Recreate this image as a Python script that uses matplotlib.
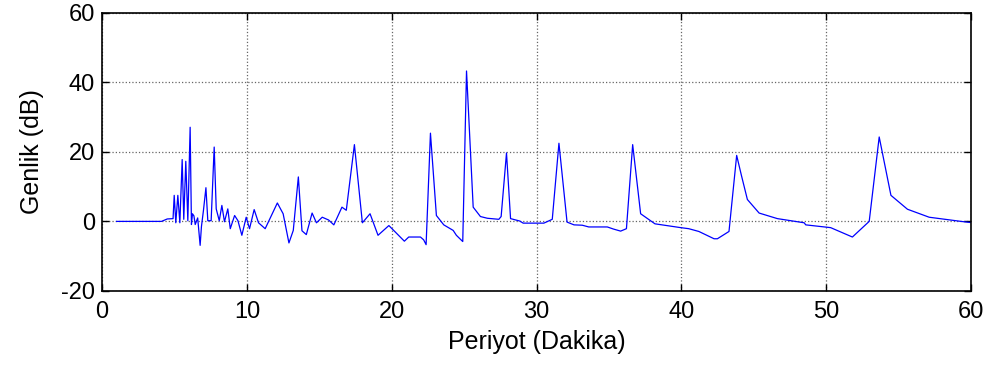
import numpy as np
import matplotlib.pyplot as plt

plt.rcParams['font.family'] = ['Liberation Sans', 'DejaVu Sans']
plt.rcParams['axes.unicode_minus'] = False

# Periyot (Dakika) and Genlik (dB)
periyot = [1.0, 4.1, 4.5, 4.9, 4.98, 5.09, 5.23, 5.37, 5.53, 5.64, 5.78, 5.92,
           6.08, 6.17, 6.24, 6.34, 6.43, 6.6, 6.77, 6.86, 7.0, 7.17, 7.3, 7.53,
           7.74, 7.88, 8.09, 8.27, 8.45, 8.68, 8.85, 9.15, 9.38, 9.65, 9.95,
           10.18, 10.5, 10.8, 11.26, 12.1, 12.5, 12.9, 13.2, 13.55, 13.8, 14.1,
           14.5, 14.8, 15.2, 15.64, 16.0, 16.56, 16.86, 17.42, 17.97, 18.5,
           19.05, 19.8, 20.87, 21.17, 21.98, 22.2, 22.37, 22.67, 23.08, 23.59,
           24.24, 24.46, 24.9, 25.16, 25.62, 26.12, 26.6, 27.39, 27.55, 27.92,
           28.2, 28.84, 29.07, 30.5, 31.08, 31.54, 32.1, 32.58, 33.15, 33.6,
           34.88, 35.3, 35.8, 36.2, 36.63, 37.18, 38.17, 39.95, 40.5, 41.2,
           42.25, 42.48, 43.28, 43.81, 44.14, 44.55, 45.36, 46.62, 48.47, 48.58,
           50.3, 51.8, 52.96, 53.65, 54.46, 55.6, 57.1, 59.3, 60.1]
genlik = [0.0, 0.0, 0.7, 0.8, 7.5, -0.4, 7.5, -0.4, 17.8, 0.6, 17.3, 0.2,
          27.1, -0.9, 2.2, 1.6, -0.9, 1.0, -6.9, -1.5, 3.2, 9.7, 0.2, 0.2,
          21.4, 3.6, 0.2, 4.6, -0.1, 3.6, -2.1, 1.7, 0.2, -4.0, 1.2,
          -2.1, 3.4, -0.4, -2.1, 5.3, 2.2, -6.2, -2.6, 12.8, -2.7, -3.8,
          2.4, -0.4, 1.2, 0.4, -1.0, 4.1, 3.2, 22.1, -0.4, 2.2,
          -4.0, -1.2, -5.7, -4.5, -4.5, -5.3, -6.7, 25.4, 1.7, -1.0,
          -2.6, -4.0, -5.8, 43.3, 4.1, 1.4, 0.9, 0.6, 1.4, 19.7,
          0.8, 0.1, -0.5, -0.5, 0.6, 22.5, -0.2, -1.0, -1.1, -1.6,
          -1.6, -2.2, -2.8, -2.1, 22.1, 2.2, -0.7, -1.8, -2.1, -2.9,
          -5.0, -5.0, -2.9, 19.0, 13.2, 6.3, 2.4, 0.8, -0.4, -1.0,
          -1.8, -4.5, 0.0, 24.3, 7.5, 3.5, 1.2, 0.0, -0.4]

fig = plt.figure(figsize=(9.91, 3.71), dpi=100)
ax = fig.add_axes([0.103, 0.216, 0.877, 0.749])
ax.plot(periyot, genlik, color='blue', linewidth=0.9)

ax.set_xlim(0, 60)
ax.set_ylim(-20, 60)
ax.set_xticks(np.arange(0, 61, 10))
ax.set_yticks(np.arange(-20, 61, 20))
ax.grid(True, color='0.4', linestyle=':', linewidth=0.9)
ax.tick_params(direction='in', top=True, right=True, labelsize=17,
               length=5, width=1)
ax.tick_params(axis='x', pad=7)
ax.tick_params(axis='y', pad=5)
for s in ax.spines.values():
    s.set_linewidth(1.2)

ax.set_xlabel('Periyot (Dakika)', fontsize=18, labelpad=5)
ax.set_ylabel('Genlik (dB)', fontsize=18, labelpad=12)

fig.savefig('out.png', dpi=100)
